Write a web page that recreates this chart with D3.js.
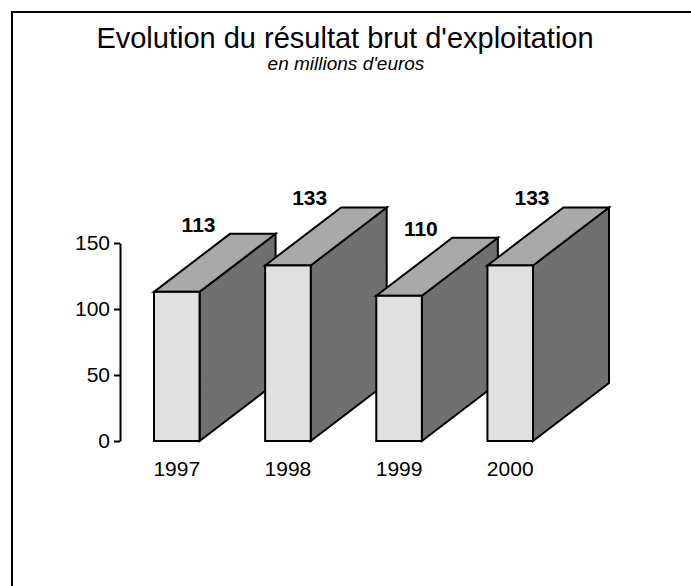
<!DOCTYPE html>
<html>
<head>
<meta charset="utf-8">
<script src="https://cdn.jsdelivr.net/npm/d3@7"></script>
<style>
  html, body { margin: 0; padding: 0; background: #fff; }
  svg { display: block; }
  text { font-family: "Liberation Sans", Arial, sans-serif; fill: #000; }
</style>
</head>
<body>
<svg id="chart" width="691" height="586"></svg>
<script>
// Résultat brut d'exploitation, en millions d'euros
const years = ["1997", "1998", "1999", "2000"];
const values = [113, 133, 110, 133];
const yTicks = [0, 50, 100, 150];

const svg = d3.select("#chart");

// Frame (only top and left edges fall inside the page)
svg.append("rect")
  .attr("x", 12).attr("y", 12)
  .attr("width", 720).attr("height", 620)
  .attr("fill", "none").attr("stroke", "#000").attr("stroke-width", 2);

// Titles
svg.append("text")
  .attr("x", 345).attr("y", 48)
  .attr("text-anchor", "middle")
  .style("font-size", "29px")
  .text("Evolution du résultat brut d'exploitation");
svg.append("text")
  .attr("x", 346).attr("y", 70)
  .attr("text-anchor", "middle")
  .style("font-size", "19px")
  .style("font-style", "italic")
  .text("en millions d'euros");

// Scales
const y = d3.scaleLinear().domain([0, 150]).range([441, 243]);
const x = d3.scaleBand().domain(years).range([154, 533]).paddingInner(0.59).paddingOuter(0);
const depthX = 76, depthY = 58;

// Y axis
const yAxis = svg.append("g")
  .attr("transform", "translate(120,0)")
  .call(d3.axisLeft(y).tickValues(yTicks).tickSizeInner(6).tickSizeOuter(0).tickPadding(4));
yAxis.select(".domain").attr("stroke", "#000").attr("stroke-width", 2);
yAxis.selectAll(".tick line").attr("stroke", "#000").attr("stroke-width", 2);
yAxis.selectAll(".tick text")
  .style("font-size", "21px")
  .style("font-family", "'Liberation Sans', Arial, sans-serif")
  .attr("fill", "#000");

// 3D bars: side, top, then front face, left to right so later bars overlap earlier ones
const bw = x.bandwidth();
const bars = svg.append("g").selectAll("g")
  .data(years.map((yr, i) => ({ yr, v: values[i] })))
  .join("g");

const faceStyle = sel => sel.attr("stroke", "#000").attr("stroke-width", 2).attr("stroke-linejoin", "miter");

bars.append("path")
  .attr("d", d => {
    const x1 = x(d.yr) + bw, yt = y(d.v), yb = y(0);
    return `M${x1},${yt}L${x1 + depthX},${yt - depthY}L${x1 + depthX},${yb - depthY}L${x1},${yb}Z`;
  })
  .attr("fill", "#707070")
  .call(faceStyle);

bars.append("path")
  .attr("d", d => {
    const x0 = x(d.yr), x1 = x0 + bw, yt = y(d.v);
    return `M${x0},${yt}L${x0 + depthX},${yt - depthY}L${x1 + depthX},${yt - depthY}L${x1},${yt}Z`;
  })
  .attr("fill", "#a9a9a9")
  .call(faceStyle);

bars.append("rect")
  .attr("x", d => x(d.yr))
  .attr("y", d => y(d.v))
  .attr("width", bw)
  .attr("height", d => y(0) - y(d.v))
  .attr("fill", "#e0e0e0")
  .call(faceStyle);

// Value labels above each bar
bars.append("text")
  .attr("x", d => x(d.yr) + bw - 1)
  .attr("y", d => y(d.v) - depthY - 2)
  .attr("text-anchor", "middle")
  .style("font-size", "21px")
  .style("font-weight", "bold")
  .text(d => d.v);

// Category labels
svg.append("g").selectAll("text")
  .data(years)
  .join("text")
  .attr("x", d => x(d) + bw / 2)
  .attr("y", 476)
  .attr("text-anchor", "middle")
  .style("font-size", "21px")
  .text(d => d);
</script>
</body>
</html>
